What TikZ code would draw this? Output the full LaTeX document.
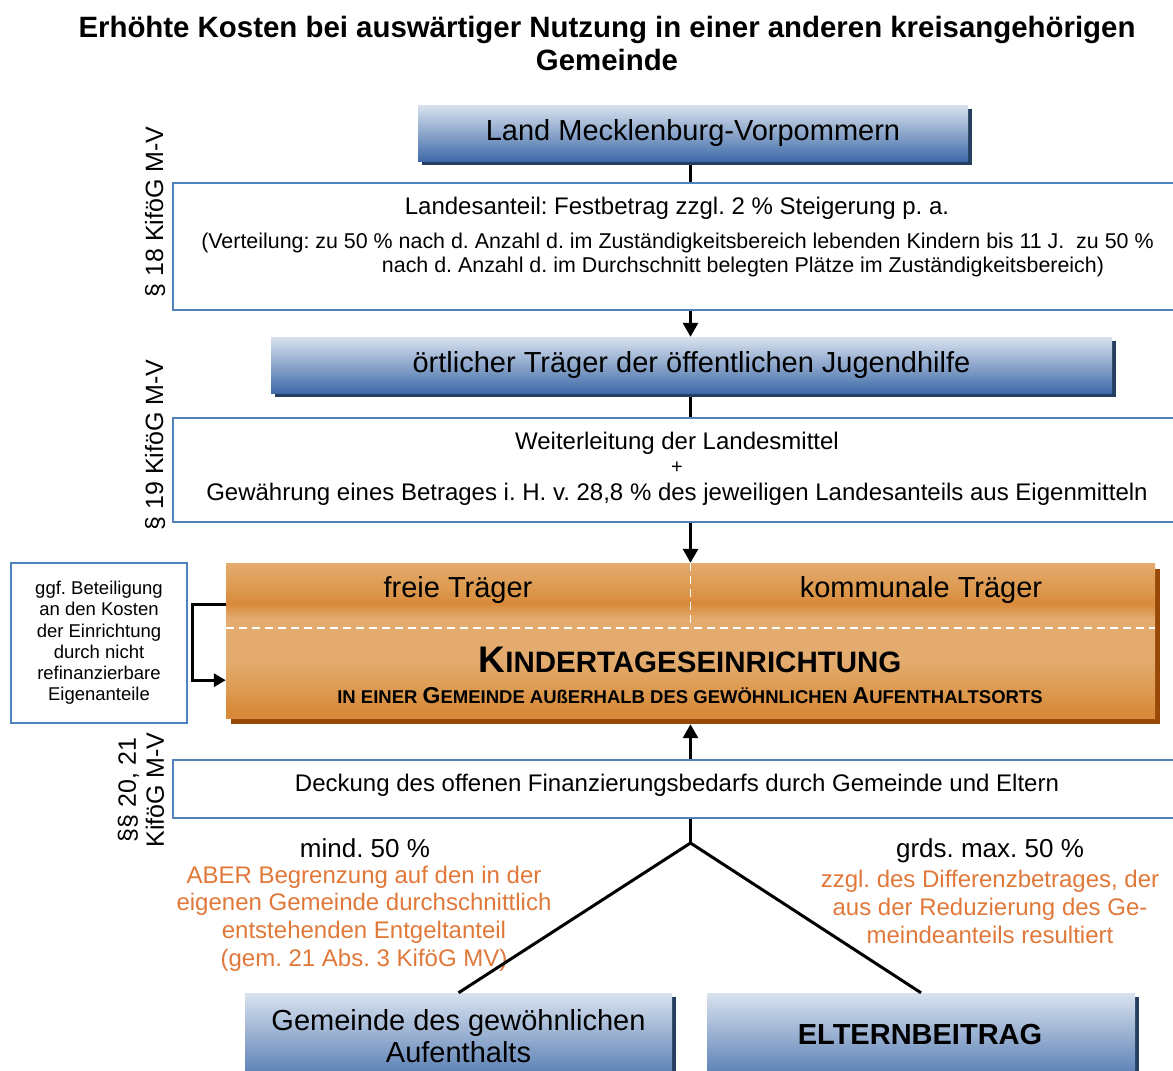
\documentclass[tikz,border=0pt]{standalone}
\usepackage{fontspec}
\setmainfont{Liberation Sans}
\frenchspacing
\usetikzlibrary{arrows.meta,shadows,calc}
\definecolor{bluetop}{HTML}{D9E2EE}
\definecolor{bluebot}{HTML}{3F6AA8}
\definecolor{navy}{HTML}{243F60}
\definecolor{bordblue}{HTML}{4F81BD}
\definecolor{orshadow}{HTML}{984807}
\definecolor{ortext}{HTML}{E0783A}
\definecolor{orA}{HTML}{E3AB6E}
\definecolor{orB}{HTML}{D88A3A}
\definecolor{orC}{HTML}{DD9A50}
\pgfdeclareverticalshading{orangesh}{100bp}{color(0bp)=(orB); color(25bp)=(orB); color(27.5bp)=(orB); color(34bp)=(orC); color(43.5bp)=(orA); color(54bp)=(orA); color(57bp)=(orA); color(62bp)=(orB); color(67bp)=(orC); color(75bp)=(orA); color(100bp)=(orA)}
\tikzset{
  bluebox/.style={rectangle, inner sep=0pt, top color=bluetop, bottom color=bluebot, middle color=bluetop!50!bluebot, draw=none,
    drop shadow={shadow xshift=4pt, shadow yshift=-4pt, fill=navy, opacity=1},
    font=\fontsize{29}{33}\selectfont},
  wbox/.style={rectangle, inner sep=0pt, draw=bordblue, line width=2pt, fill=white},
  orbox/.style={rectangle, inner sep=0pt, shading=orangesh, draw=none,
    drop shadow={shadow xshift=5pt, shadow yshift=-6pt, fill=orshadow, opacity=1}},
  arr/.style={line width=3pt, -{Triangle[width=15pt,length=14pt]}},
  sarr/.style={line width=3pt, -{Triangle[width=13pt,length=12pt]}},
  conn/.style={line width=3pt},
  wdash/.style={white, line width=1.5pt, dash pattern=on 8pt off 5pt},
  lab/.style={rotate=90, font=\fontsize{25}{28}\selectfont, align=center},
  txt/.style={inner sep=0pt, font=\fontsize{24}{28}\selectfont},
  otxt/.style={inner sep=0pt, align=center, text=ortext, font=\fontsize{24}{27.7}\selectfont}
}
\begin{document}
\begin{tikzpicture}[x=1pt,y=-1pt]
\useasboundingbox (0,0) rectangle (1173,1071);
\coordinate (col) at (690.5,0);
% title
\node[align=center, inner sep=0pt, font=\bfseries\fontsize{29.4}{33}\selectfont] (title) at (607,43)
  {Erhöhte Kosten bei auswärtiger Nutzung in einer anderen kreisangehörigen\\Gemeinde};
% Land
\node[bluebox, minimum width=550pt, minimum height=56pt] (land) at (693,133) {Land Mecklenburg-Vorpommern};
% §18 box
\node[wbox, minimum width=1010pt, minimum height=127pt] (b18) at (678,246.5) {};
\node[txt] (t18a) at (677,208) {Landesanteil: Festbetrag zzgl. 2 \% Steigerung p. a.};
\node[txt, font=\fontsize{21.4}{24}\selectfont] (t18b) at (677.5,243) {(Verteilung: zu 50 \% nach d. Anzahl d. im Zuständigkeitsbereich lebenden Kindern bis 11 J.\ \ zu 50 \%};
\node[txt, font=\fontsize{21.4}{24}\selectfont] (t18c) at (743,267) {nach d. Anzahl d. im Durchschnitt belegten Plätze im Zuständigkeitsbereich)};
\node[lab] (l18) at (155,212) {§ 18 KiföG M-V};
% örtlicher Träger
\node[bluebox, minimum width=841pt, minimum height=56pt] (oert) at (691.5,365) {örtlicher Träger der öffentlichen Jugendhilfe};
% §19 box
\node[wbox, minimum width=1010pt, minimum height=104pt] (b19) at (678,470) {};
\node[txt] (t19a) at (677,443) {Weiterleitung der Landesmittel};
\node[txt, font=\fontsize{20}{24}\selectfont] (t19b) at (677,468) {+};
\node[txt] (t19c) at (677,494) {Gewährung eines Betrages i. H. v. 28,8 \% des jeweiligen Landesanteils aus Eigenmitteln};
\node[lab] (l19) at (155,445) {§ 19 KiföG M-V};
% Kita
\node[orbox, minimum width=929pt, minimum height=155pt] (kita) at (690.5,640.5) {};
\draw[wdash] ([yshift=-65pt]kita.north west) -- ([yshift=-65pt]kita.north east);
\draw[wdash] (kita.north -| col) -- ([yshift=-65pt]kita.north -| col);
\node[inner sep=0pt, font=\fontsize{29}{33}\selectfont] (frei) at (458,590) {freie Träger};
\node[inner sep=0pt, font=\fontsize{29}{33}\selectfont] (komm) at (921,590) {kommunale Träger};
\node[inner sep=0pt, font=\bfseries\fontsize{29.5}{33}\selectfont] (kt) at (690,660) {{\fontsize{37}{40}\selectfont K}INDERTAGESEINRICHTUNG};
\node[inner sep=0pt, font=\bfseries\fontsize{18.5}{22}\selectfont] (ks) at (690,696) {IN EINER {\fontsize{23}{26}\selectfont G}EMEINDE AUßERHALB DES GEWÖHNLICHEN {\fontsize{23}{26}\selectfont A}UFENTHALTSORTS};
% left box
\node[wbox, minimum width=176pt, minimum height=160pt, align=center, font=\fontsize{18.5}{21.2}\selectfont] (links) at (99,643)
  {ggf. Beteiligung\\an den Kosten\\der Einrichtung\\durch nicht\\refinanzierbare\\Eigenanteile};
\draw[sarr] ([yshift=-42pt]kita.north west) -- ++(-33pt,0) |- ([yshift=38pt]kita.south west);
% §§20,21 box
\node[wbox, minimum width=1010pt, minimum height=58pt] (b20) at (678,789) {};
\node[txt] (t20) at (677,785) {Deckung des offenen Finanzierungsbedarfs durch Gemeinde und Eltern};
\node[lab] (l20) at (141,790) {§§ 20, 21\\KiföG M-V};
% bottom boxes
\node[bluebox, minimum width=427pt, minimum height=100pt] (gem) at (458.5,1043) {};
\node[inner sep=0pt, align=center, font=\fontsize{29}{32}\selectfont] (gemt) at (458.5,1036) {Gemeinde des gewöhnlichen\\Aufenthalts};
\node[bluebox, minimum width=428pt, minimum height=100pt] (elt) at (921,1043) {};
\node[inner sep=0pt, font=\bfseries\fontsize{29}{32}\selectfont] (eltt) at (920,1035) {ELTERNBEITRAG};
% texts at split
\node[inner sep=0pt, font=\fontsize{26}{30}\selectfont] (mind) at (365,848) {mind. 50 \%};
\node[otxt] (aber) at (364,918.5) {ABER Begrenzung auf den in der\\eigenen Gemeinde durchschnittlich\\entstehenden Entgeltanteil\\(gem. 21 Abs. 3 KiföG MV)};
\node[inner sep=0pt, font=\fontsize{26}{30}\selectfont] (grds) at (990,851) {grds. max. 50 \%};
\node[otxt] (zzgl) at (990,907) {zzgl. des Differenzbetrages, der\\aus der Reduzierung des Ge-\\meindeanteils resultiert};
% connectors
\draw[conn] ([yshift=-4pt]land.south -| col) -- (b18.north -| col);
\draw[arr] (b18.south -| col) -- (oert.north -| col);
\draw[conn] ([yshift=-4pt]oert.south -| col) -- (b19.north -| col);
\draw[arr] (b19.south -| col) -- (kita.north -| col);
\draw[arr] (b20.north -| col) -- ([yshift=-6pt]kita.south -| col);
\coordinate (split) at (690.5,843);
\draw[conn] (b20.south -| col) -- (split);
\draw[conn, line join=miter] (gem.north) -- (split) -- (elt.north);
\end{tikzpicture}
\end{document}
